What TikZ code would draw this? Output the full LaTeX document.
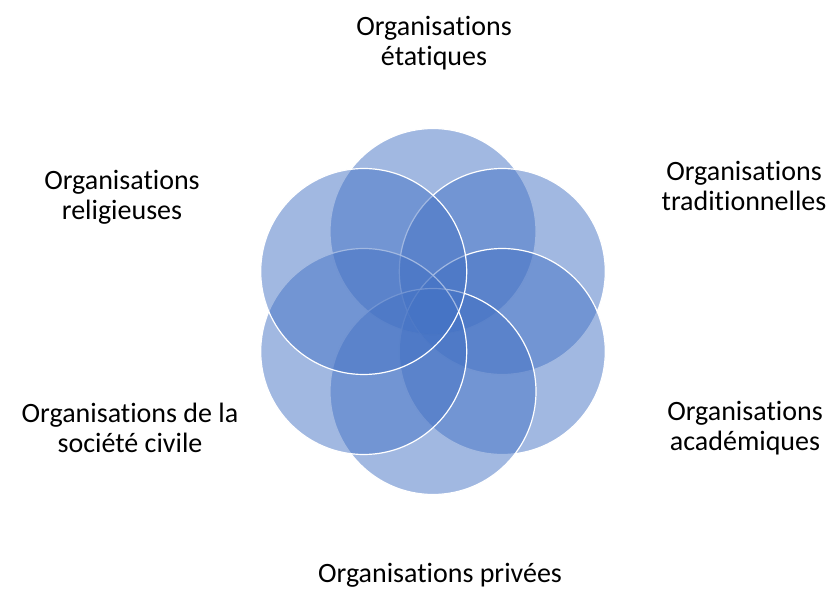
\documentclass[tikz,border=0pt]{standalone}
\usepackage{fontspec}
\setmainfont{Carlito}[Ligatures=NoCommon]
\definecolor{petalblue}{RGB}{68,114,196}
\tikzset{
	petal/.style={fill=petalblue, fill opacity=.5, draw=white, line width=1.2pt},
	label/.style={align=center, font=\fontsize{28}{30}\selectfont, text=black}
}

\begin{document}
\begin{tikzpicture}[x=1pt, y=1pt]

	\useasboundingbox (0,0) rectangle (832,592);
	\coordinate (centre) at (433,280.5);

	% Circles
	\foreach \a in {90,30,-30,-90,-150,150} {
		\draw[petal] (centre) ++(\a:80) circle (103);
	}

	% Labels
	\node[label] (etat) at (434,549) {Organisations\\étatiques};
	\node[label] (trad) at (744,406) {Organisations\\traditionnelles};
	\node[label] (acad) at (745,164) {Organisations\\académiques};
	\node[label, anchor=base] (priv) at (440,10) {Organisations privées};
	\node[label] (civil) at (130,164) {Organisations de la\\société civile};
	\node[label] (relig) at (122,395) {Organisations\\religieuses};

\end{tikzpicture}
\end{document}
